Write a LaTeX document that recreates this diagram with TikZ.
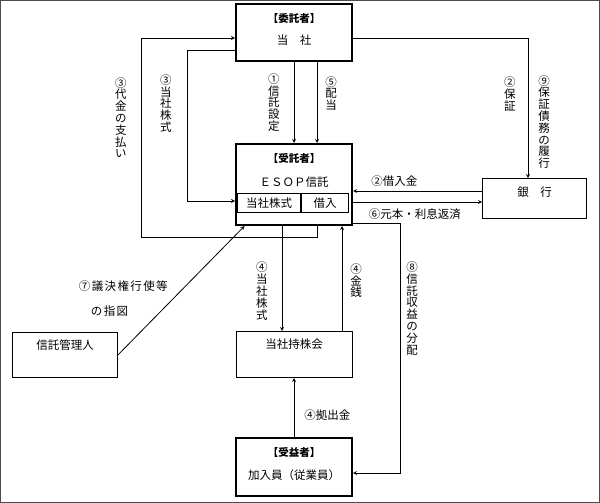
\documentclass[tikz,border=0pt]{standalone}
\usepackage{fontspec}
\setmainfont{Noto Sans CJK JP}
\usetikzlibrary{positioning}
\tikzset{
    shutai/.style={
           rectangle,
           draw=black, line width=2.4pt,
           minimum width=115.6pt,
           inner sep=2pt,
           text centered,
           font=\fontsize{11.5}{13}\selectfont
           },
    kikan/.style={
           rectangle,
           draw=black, line width=0.8pt,
           inner sep=2pt,
           text centered,
           font=\fontsize{11.5}{13}\selectfont
           },
    tate/.style={
           align=center,
           inner sep=1pt,
           font=\fontsize{11.5}{11.8}\selectfont
           },
    yoko/.style={
           inner sep=1pt,
           font=\fontsize{11.5}{13}\selectfont
           },
}
\newcommand{\midashi}[1]{{\fontsize{10.5}{13}\selectfont\textbf{#1}}}

\begin{document}
\begin{tikzpicture}[->,>=stealth,line width=0.8pt,x=1pt,y=1pt]

            \useasboundingbox (0,0) rectangle (600,-503);
            \draw[-,black!70,line width=1pt] (0.5,-0.5) rectangle (599.5,-502.5);

             % itakusha
             \node[shutai, minimum height=56.6pt, text depth=29.7pt] (TOUSHA) at (294,-32.5)
             {\begin{tabular}[t]{c}
              \midashi{【委託者】}\\[9pt]
              当　社
              \end{tabular}};

             \node[shutai,
              minimum height=80.6pt, text depth=53.7pt,
              below of=TOUSHA,
              node distance=152pt,
              anchor=center] (ESOP)
             {%
             \begin{tabular}[t]{c}
              \midashi{【受託者】}\\[11pt]
              ＥＳＯＰ信託
             \end{tabular}
             };

             \node[kikan, minimum width=63.2pt, minimum height=19.2pt,
              above right=13.2pt and 2.2pt of ESOP.south west] (KABU) {当社株式};
             \node[kikan, minimum width=47.2pt, minimum height=19.2pt,
              right=0pt of KABU] (KARI) {借入};

             \node[kikan, minimum width=104pt, minimum height=40pt,
              text depth=14.3pt] (BANK) at (534.5,-198.5) {銀　行};

             \node[kikan,
              minimum width=116.2pt, minimum height=46.2pt, text depth=22.3pt,
              below of=ESOP,
              node distance=170pt,
              anchor=center] (MOCHI) {当社持株会};

             \node[kikan, minimum width=105pt, minimum height=45pt,
              text depth=21.3pt] (KANRI) at (65,-355) {信託管理人};

             % jueki
             \node[shutai,
              minimum height=57.6pt, text depth=30.7pt,
              below of=MOCHI,
              node distance=112.5pt,
              anchor=center] (KANYU)
             {%
             \begin{tabular}[t]{c}
              \midashi{【受益者】}\\[10pt]
              加入員（従業員）
             \end{tabular}
             };

             \path
             (TOUSHA) edge node[tate, left=13pt] {①\\信\\託\\設\\定} (ESOP)
             ([xshift=23pt]TOUSHA.south) edge node[tate, pos=0.39, right=7pt] {⑤\\配\\当} ([xshift=23pt]ESOP.north)
             ([yshift=7.5pt]BANK.west) edge node[yoko, pos=0.68, above=3pt] {②借入金} ([yshift=-6.5pt]ESOP.east)
             ([yshift=-17.5pt]ESOP.east) edge node[yoko, pos=0.48, below=5pt] {⑥元本・利息返済} ([yshift=-3.5pt]BANK.west)
             ([xshift=-12pt]ESOP.south) edge node[tate, pos=0.62, left=13pt] {④\\当\\社\\株\\式} ([xshift=-12pt]MOCHI.north)
             ([xshift=48pt]MOCHI.north) edge node[tate, pos=0.48, right=7pt] {④\\金\\銭} ([xshift=48pt]ESOP.south)
             (KANYU) edge node[yoko, pos=0.37, right=9pt] {④拠出金} (MOCHI)
             (KANRI.east) edge node[yoko, pos=0.44, left=4.5pt, align=left,
               font=\fontsize{11.5}{13}\selectfont\addfontfeatures{LetterSpace=12}]
             {⑦議決権行使等\\[12pt]\hspace{12pt}の指図}
             (ESOP.220)
             ;

             % daikin / kabushiki
             \draw ([xshift=23pt]ESOP.south) -- ++(0,-11) -- ++(-176,0)
                |- node[tate, pos=0.3, left=13pt] {③\\代\\金\\の\\支\\払\\い} ([yshift=-5.5pt]TOUSHA.west);
             \draw ([yshift=-17.5pt]TOUSHA.west) -- ++(-48,0)
                |- node[tate, pos=0.177, left=14pt] {③\\当\\社\\株\\式} ([yshift=-16.5pt]ESOP.west);
             % hosho
             \draw ([yshift=-5.5pt]TOUSHA.east)
                -| node[tate, pos=0.70, left=11pt] {②\\保\\証}
                   node[tate, pos=0.80, right=9pt] {⑨\\保\\証\\債\\務\\の\\履\\行}
                ([xshift=-6.5pt]BANK.north);
             % bunpai
             \draw ([yshift=-39pt]ESOP.east) -- ++(47,0)
                |- node[tate, pos=0.17, right=5pt] {⑧\\信\\託\\収\\益\\の\\分\\配} ([yshift=-6pt]KANYU.east);

\end{tikzpicture}
\end{document}
